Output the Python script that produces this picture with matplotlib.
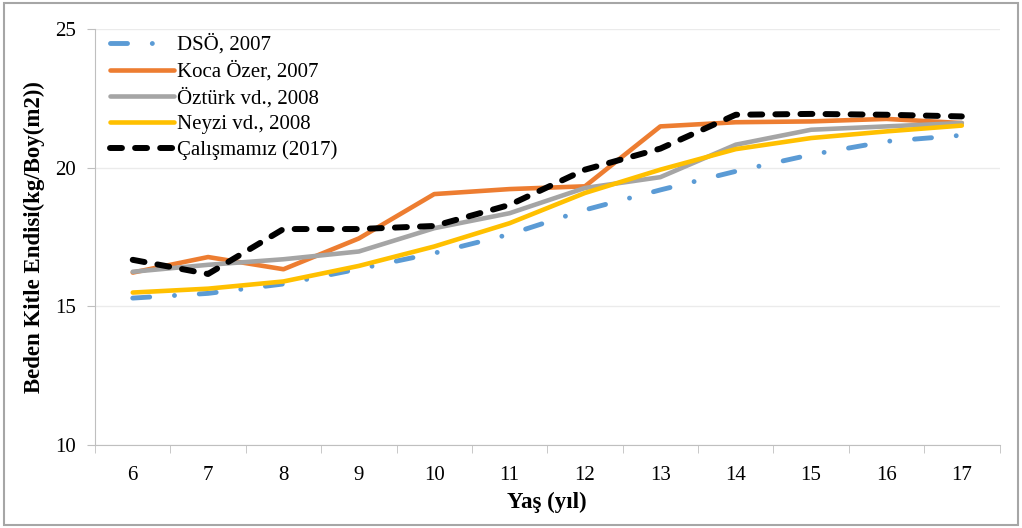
import matplotlib.pyplot as plt
from matplotlib.patches import Rectangle

# Beden kitle indeksi - yaş karşılaştırması
ages = ["6", "7", "8", "9", "10", "11", "12", "13", "14", "15", "16", "17"]

dso_2007 = [15.30, 15.47, 15.81, 16.35, 16.92, 17.60, 18.48, 19.20, 19.87, 20.47, 20.95, 21.17]
koca_ozer_2007 = [16.22, 16.78, 16.34, 17.45, 19.05, 19.23, 19.33, 21.49, 21.64, 21.67, 21.76, 21.61]
ozturk_2008 = [16.25, 16.50, 16.70, 16.98, 17.82, 18.36, 19.27, 19.66, 20.83, 21.37, 21.49, 21.61]
neyzi_2008 = [15.50, 15.64, 15.90, 16.46, 17.16, 18.00, 19.09, 19.93, 20.67, 21.07, 21.31, 21.52]
calisma_2017 = [16.68, 16.17, 17.79, 17.79, 17.90, 18.66, 19.93, 20.69, 21.91, 21.94, 21.91, 21.85]

plt.rcParams['font.family'] = ['Liberation Serif', 'DejaVu Serif']

fig = plt.figure(figsize=(10.22, 5.28), dpi=100)
ax = fig.add_axes([0.093, 0.157, 0.885, 0.788])

x = range(len(ages))

ax.plot(x, dso_2007, color="#5B9BD5", lw=3.5, dashes=(3.5, 5.1, 0.01, 5.1),
        dash_capstyle="round", label="DSÖ, 2007")
ax.plot(x, koca_ozer_2007, color="#ED7D31", lw=3.3, solid_capstyle="round",
        solid_joinstyle="round", label="Koca Özer, 2007")
ax.plot(x, ozturk_2008, color="#A5A5A5", lw=3.3, solid_capstyle="round",
        solid_joinstyle="round", label="Öztürk vd., 2008")
ax.plot(x, neyzi_2008, color="#FFC000", lw=3.3, solid_capstyle="round",
        solid_joinstyle="round", label="Neyzi vd., 2008")
ax.plot(x, calisma_2017, color="black", lw=4.3, dashes=(2.0, 2.2),
        dash_capstyle="round", label="Çalışmamız (2017)")

ax.set_xlim(-0.5, len(ages) - 0.5)
ax.set_ylim(10, 25)
ax.set_yticks([10, 15, 20, 25])

# etiketler kategori ortasında, tik çizgileri kategori sınırlarında
ax.set_xticks(list(x))
ax.set_xticklabels(ages, fontsize=15)
ax.set_xticks([i - 0.5 for i in range(len(ages) + 1)], minor=True)
ax.tick_params(axis="x", which="major", length=0, pad=15)
ax.tick_params(axis="x", which="minor", length=6, color="#BFBFBF")
ax.tick_params(axis="y", length=6, color="#BFBFBF", labelsize=15, pad=8)

ax.grid(axis="y", color="#EBEBEB", lw=1)
ax.set_axisbelow(True)
for s in ["top", "right"]:
    ax.spines[s].set_visible(False)
for s in ["left", "bottom"]:
    ax.spines[s].set_color("#BFBFBF")

ax.set_xlabel("Yaş (yıl)", fontsize=16.5, fontweight="bold", labelpad=5)
ax.set_ylabel("Beden Kitle Endisi(kg/Boy(m2))", fontsize=16.5, fontweight="bold", labelpad=7)

ax.legend(loc="upper left", bbox_to_anchor=(0.0, 1.022), frameon=False, fontsize=15,
          handlelength=3.1, handletextpad=0.15, labelspacing=0.3, borderaxespad=0.3)

# dış çerçeve
fig.patches.append(Rectangle((0.004, 0.006), 0.992, 0.988, transform=fig.transFigure,
                             fill=False, edgecolor="#A6A6A6", lw=1.5))

fig.savefig("out.png", dpi=100)
